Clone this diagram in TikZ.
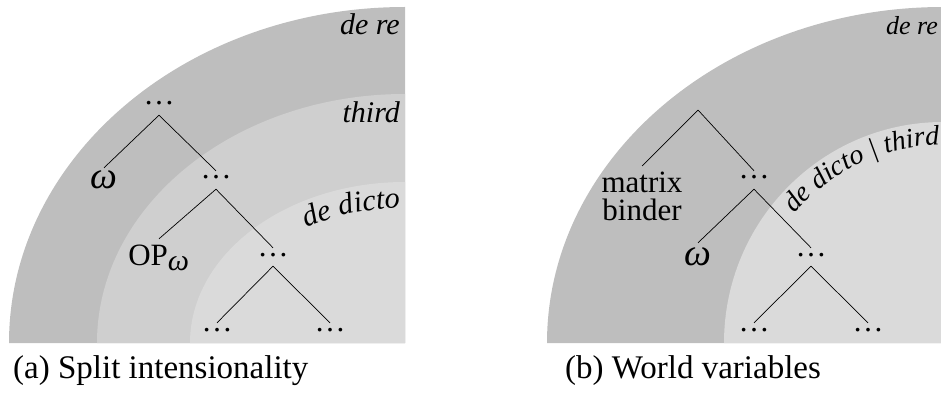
\documentclass[tikz,border=0pt]{standalone}
\usepackage{fontspec}
\setmainfont{Liberation Serif}
\usetikzlibrary{decorations.text}
\definecolor{bandA}{gray}{0.745}
\definecolor{bandB}{gray}{0.81}
\definecolor{bandC}{gray}{0.855}
\begin{document}
\begin{tikzpicture}[x=1pt,y=1pt,
  font=\fontsize{31}{28}\selectfont,
  dotsn/.style={inner sep=0pt, anchor=base, text height=8pt, text depth=10pt},
  leaf/.style={inner sep=0pt, anchor=base, text height=#1, text depth=0pt},
  omega/.style={leaf=#1, font=\fontsize{38}{40}\selectfont\itshape},
  edge/.style={line width=0.7pt, black},
  lbl/.style={font=\fontsize{30}{32}\selectfont\itshape, inner sep=0pt, anchor=base east},
  lblB/.style={font=\fontsize{26}{28}\selectfont\itshape, inner sep=0pt, anchor=base east},
  capt/.style={font=\fontsize{33}{36}\selectfont, inner sep=0pt, anchor=base west}]
\useasboundingbox (0,0) rectangle (941,394);
\clip (0,0) rectangle (941,394);
% ---- left panel bands
\fill[bandA] (405,51) -- (9,51) arc[start angle=180, end angle=90, x radius=396, y radius=336] -- cycle;
\fill[bandB] (405,51) -- (97,51) arc[start angle=180, end angle=90, x radius=308, y radius=249] -- cycle;
\fill[bandC] (405,51) -- (190,51) arc[start angle=180, end angle=90, x radius=215, y radius=161] -- cycle;
% ---- right panel bands
\fill[bandA] (943,51) -- (547,51) arc[start angle=180, end angle=90, x radius=396, y radius=336] -- cycle;
\fill[bandC] (943,51) -- (724,51) arc[start angle=180, end angle=90, x radius=219, y radius=221] -- cycle;
% ---- band labels
\node[lbl] (dereA) at (400,359) {de re};
\node[lbl] (thirdA) at (400,271) {third};
\node[lblB] (dereB) at (938,359) {de re};
\path[decorate, decoration={text along path, text align=right,
  text={|\fontsize{30}{32}\itshape\selectfont|de dicto}}]
  (241.3,118.5) arc[start angle=150, end angle=91.5, x radius=189, y radius=135];
\path[decorate, decoration={text along path, text align=right,
  text format delimiters={[}{]},
  text={[\fontsize{28}{30}\itshape\selectfont]de dicto | third}}]
  (765.4,134.7) arc[start angle=155, end angle=91, x radius=196, y radius=198];
% ---- left tree
\node[dotsn] (r1) at (159,289) {…};
\node[omega=20pt] (w1) at (104,206) {ω};
\node[dotsn] (n1) at (216,215) {…};
\node[leaf=26pt] (op) at (159,129) {OP\textsubscript{\fontsize{30}{30}\selectfont\itshape ω}};
\node[dotsn] (n2) at (273,138) {…};
\node[dotsn] (l1) at (217,63) {…};
\node[dotsn] (l2) at (330,63) {…};
\draw[edge] (r1.south) -- (w1.north);
\draw[edge] (r1.south) -- (n1.north);
\draw[edge] (n1.south) -- (op.north);
\draw[edge] (n1.south) -- (n2.north);
\draw[edge] (n2.south) -- (l1.north);
\draw[edge] (n2.south) -- (l2.north);
% ---- right tree
\coordinate (r2) at (698,284);
\node[anchor=north, inner sep=0pt, outer ysep=6pt, align=center] (mb) at (642,228) {matrix\\binder};
\node[dotsn] (n3) at (754,215) {…};
\node[omega=22pt] (w2) at (698,129) {ω};
\node[dotsn] (n4) at (811,138) {…};
\node[dotsn] (l3) at (754,63) {…};
\node[dotsn] (l4) at (868,63) {…};
\draw[edge] (r2) -- (mb.north);
\draw[edge] (r2) -- (n3.north);
\draw[edge] (n3.south) -- (w2.north);
\draw[edge] (n3.south) -- (n4.north);
\draw[edge] (n4.south) -- (l3.north);
\draw[edge] (n4.south) -- (l4.north);
% ---- captions
\node[capt] (capA) at (13,16) {(a) Split intensionality};
\node[capt] (capB) at (565,16) {(b) World variables};
\end{tikzpicture}
\end{document}
